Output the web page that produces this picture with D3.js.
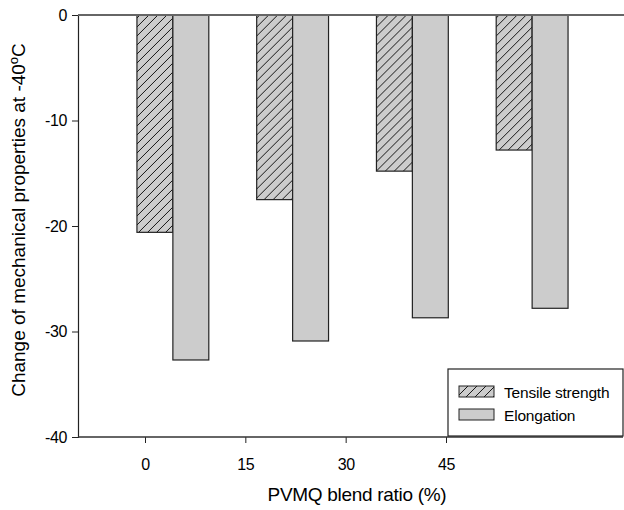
<!DOCTYPE html>
<html>
<head>
<meta charset="utf-8">
<script src="https://cdn.jsdelivr.net/npm/d3@7"></script>
<style>
  body { margin: 0; background: #fff; }
  text { font-family: Arial, "Liberation Sans", sans-serif; fill: #000; }
</style>
</head>
<body>
<div id="chart"></div>
<script>
const ratios = ["0", "15", "30", "45"];
const series = ["Tensile strength", "Elongation"];
const tensile = [-20.6, -17.5, -14.8, -12.8];
const elongation = [-32.7, -30.9, -28.7, -27.8];
const yTicks = [0, -10, -20, -30, -40];
const xTicks = [0, 15, 30, 45];

const width = 624;
const height = 510;
const plot = { left: 78, right: 623, top: 15, bottom: 437 };

const svg = d3
  .select("#chart")
  .append("svg")
  .attr("width", width)
  .attr("height", height);

const defs = svg.append("defs");
const hatch = defs
  .append("pattern")
  .attr("id", "hatch")
  .attr("patternUnits", "userSpaceOnUse")
  .attr("width", 9)
  .attr("height", 9);
hatch.append("rect").attr("width", 9).attr("height", 9).attr("fill", "#cccccc");
hatch
  .append("path")
  .attr("d", "M-1,10 L10,-1 M-2,2 L2,-2 M7,11 L11,7")
  .attr("stroke", "#000")
  .attr("stroke-width", 0.9);

const yScale = d3.scaleLinear().domain([-40, 0]).range([plot.bottom, plot.top]);
const xTick = d3.scaleLinear().domain([0, 45]).range([145, 446]);
const xGroup = d3
  .scaleBand()
  .domain(ratios)
  .range([113, 592])
  .paddingInner(0.4)
  .paddingOuter(0.2);
const xSeries = d3.scaleBand().domain(series).range([0, xGroup.bandwidth()]);

const rows = ratios.map((r, i) => ({ ratio: r, values: [tensile[i], elongation[i]] }));

const groups = svg
  .selectAll(".group")
  .data(rows)
  .enter()
  .append("g")
  .attr("transform", (d) => `translate(${xGroup(d.ratio)},0)`);

groups
  .selectAll("rect")
  .data((d) => d.values.map((v, j) => ({ key: series[j], value: v })))
  .enter()
  .append("rect")
  .attr("x", (d) => xSeries(d.key))
  .attr("y", yScale(0))
  .attr("width", xSeries.bandwidth())
  .attr("height", (d) => yScale(d.value) - yScale(0))
  .attr("fill", (d) => (d.key === series[0] ? "url(#hatch)" : "#cccccc"))
  .attr("stroke", "#222")
  .attr("stroke-width", 1.2);

const font = "Arial, 'Liberation Sans', sans-serif";

// y axis
const yAxis = svg
  .append("g")
  .attr("transform", `translate(${plot.left},0)`)
  .call(d3.axisLeft(yScale).tickValues(yTicks).tickSize(6).tickPadding(5));
yAxis.select(".domain").attr("stroke", "#222").attr("stroke-width", 1.2);
yAxis.selectAll(".tick line").attr("stroke", "#222");
yAxis
  .selectAll("text")
  .attr("font-size", 16)
  .attr("font-family", font)
  .attr("letter-spacing", -0.4)
  .text((d) => String(d));

// x axis at bottom
const xAxis = svg
  .append("g")
  .attr("transform", `translate(0,${plot.bottom})`)
  .call(d3.axisBottom(xTick).tickValues(xTicks).tickSize(6).tickPadding(16).tickFormat(d3.format("d")));
xAxis.select(".domain").remove();
xAxis
  .append("line")
  .attr("x1", plot.left)
  .attr("x2", plot.right)
  .attr("stroke", "#333")
  .attr("stroke-width", 1.5);
xAxis.selectAll(".tick line").attr("stroke", "#222");
xAxis
  .selectAll("text")
  .attr("font-size", 16)
  .attr("font-family", font)
  .attr("letter-spacing", -0.4);

// zero line at top
svg
  .append("line")
  .attr("x1", plot.left)
  .attr("x2", width)
  .attr("y1", yScale(0))
  .attr("y2", yScale(0))
  .attr("stroke", "#666")
  .attr("stroke-width", 2);

// axis titles
svg
  .append("text")
  .attr("x", 357)
  .attr("y", 501)
  .attr("text-anchor", "middle")
  .attr("font-size", 19)
  .attr("letter-spacing", -0.3)
  .text("PVMQ blend ratio (%)");

const yTitle = svg
  .append("text")
  .attr("transform", "rotate(-90)")
  .attr("x", -220)
  .attr("y", 25)
  .attr("text-anchor", "middle")
  .attr("font-size", 19);
yTitle.append("tspan").text("Change of mechanical properties at -40");
yTitle.append("tspan").attr("font-size", 13).attr("dy", -7).text("o");
yTitle.append("tspan").attr("dy", 7).text("C");

// legend
const legend = svg.append("g").attr("transform", "translate(448,369)");
legend
  .append("rect")
  .attr("width", 175)
  .attr("height", 67)
  .attr("fill", "#fff")
  .attr("stroke", "#222")
  .attr("stroke-width", 1.2);
const items = legend
  .selectAll(".item")
  .data(series)
  .enter()
  .append("g")
  .attr("transform", (d, i) => `translate(11,${17 + i * 23})`);
items
  .append("rect")
  .attr("width", 35)
  .attr("height", 11)
  .attr("fill", (d, i) => (i === 0 ? "url(#hatch)" : "#cccccc"))
  .attr("stroke", "#222")
  .attr("stroke-width", 1);
items
  .append("text")
  .attr("x", 45)
  .attr("y", 12)
  .attr("font-size", 15.5)
  .attr("letter-spacing", -0.2)
  .text((d) => d);
</script>
</body>
</html>
